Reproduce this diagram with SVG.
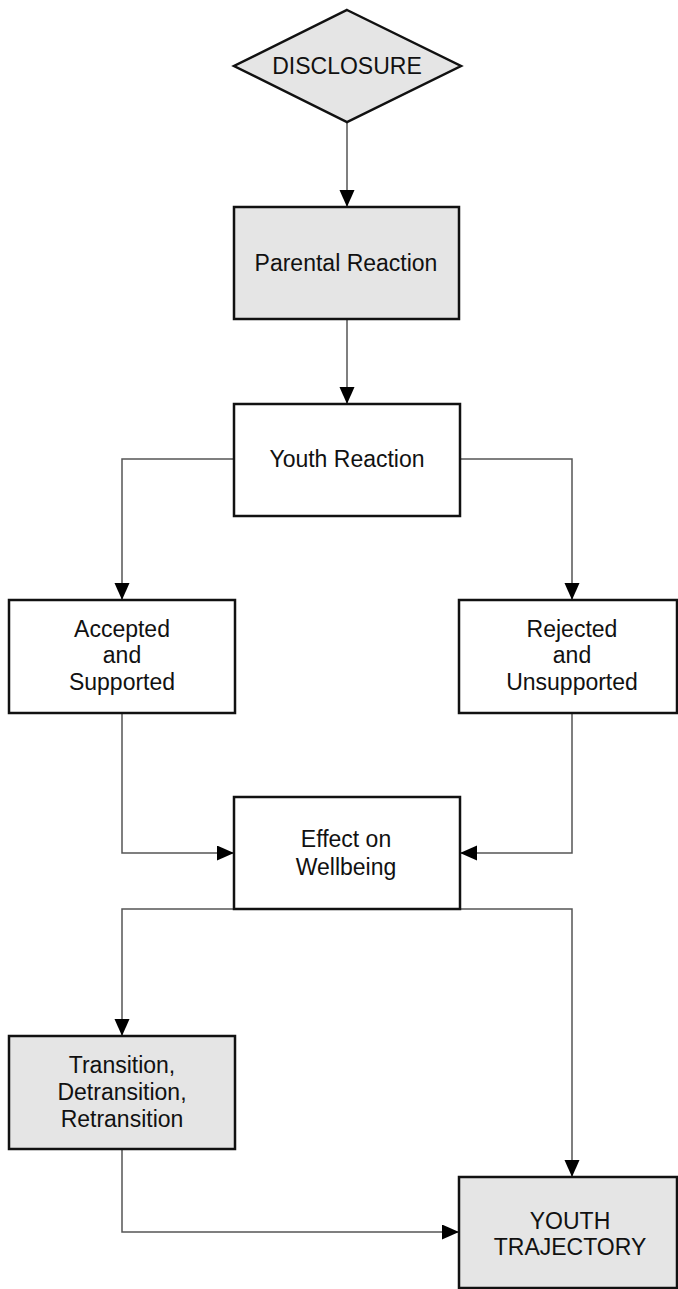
<svg xmlns="http://www.w3.org/2000/svg" width="678" height="1289" viewBox="0 0 678 1289">
<style>
.box{stroke:#111;stroke-width:2.5;}
.g{fill:#e5e5e5;}
.w{fill:#ffffff;}
.conn{fill:none;stroke:#555;stroke-width:1.5;}
text{font-family:"Liberation Sans",Arial,sans-serif;font-size:23px;fill:#111;text-anchor:middle;}
</style>
<defs>
<marker id="arr" markerUnits="userSpaceOnUse" markerWidth="18" markerHeight="16" refX="17" refY="7.5" orient="auto">
<path d="M0,0 L17,7.5 L0,15 z" fill="#000"/>
</marker>
</defs>
<rect width="678" height="1289" fill="#fff"/>
<g id="connectors">
<path class="conn" d="M347,122 L347,207" marker-end="url(#arr)"/>
<path class="conn" d="M347,319 L347,404" marker-end="url(#arr)"/>
<path class="conn" d="M234,459 L122,459 L122,600" marker-end="url(#arr)"/>
<path class="conn" d="M460,459 L572,459 L572,600" marker-end="url(#arr)"/>
<path class="conn" d="M122,713 L122,853 L234,853" marker-end="url(#arr)"/>
<path class="conn" d="M572,713 L572,853 L460,853" marker-end="url(#arr)"/>
<path class="conn" d="M234,909 L122,909 L122,1036" marker-end="url(#arr)"/>
<path class="conn" d="M460,909 L572,909 L572,1177" marker-end="url(#arr)"/>
<path class="conn" d="M122,1149 L122,1232 L459,1232" marker-end="url(#arr)"/>
</g>
<g id="disclosure">
<polygon class="box g" points="347,10 461,66 347,122 234,66"/>
<text x="347" y="74">DISCLOSURE</text>
</g>
<g id="parental-reaction">
<rect class="box g" x="234" y="207" width="225" height="112"/>
<text x="346" y="271">Parental Reaction</text>
</g>
<g id="youth-reaction">
<rect class="box w" x="234" y="404" width="226" height="112"/>
<text x="347" y="467">Youth Reaction</text>
</g>
<g id="accepted">
<rect class="box w" x="9" y="600" width="226" height="113"/>
<text x="122" y="637">Accepted</text>
<text x="122" y="663">and</text>
<text x="122" y="690">Supported</text>
</g>
<g id="rejected">
<rect class="box w" x="459" y="600" width="218" height="113"/>
<text x="572" y="637">Rejected</text>
<text x="572" y="663">and</text>
<text x="572" y="690">Unsupported</text>
</g>
<g id="effect">
<rect class="box w" x="234" y="797" width="226" height="112"/>
<text x="346" y="847">Effect on</text>
<text x="346" y="875">Wellbeing</text>
</g>
<g id="transition">
<rect class="box g" x="9" y="1036" width="226" height="113"/>
<text x="122" y="1073">Transition,</text>
<text x="122" y="1100">Detransition,</text>
<text x="122" y="1127">Retransition</text>
</g>
<g id="youth-trajectory">
<rect class="box g" x="459" y="1177" width="218" height="111"/>
<text x="570" y="1229">YOUTH</text>
<text x="570" y="1255">TRAJECTORY</text>
</g>
</svg>
